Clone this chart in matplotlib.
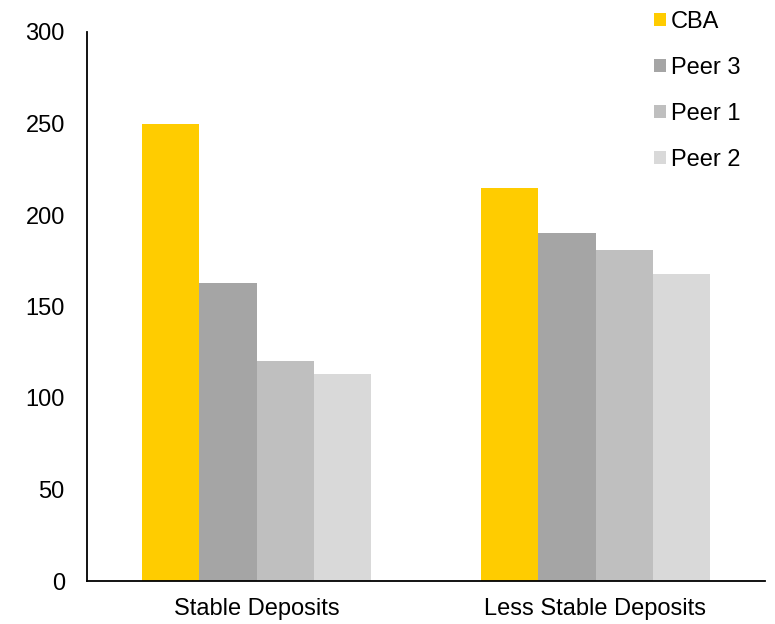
import matplotlib
matplotlib.use("Agg")
import matplotlib.pyplot as plt
import numpy as np
from matplotlib.patches import Patch

plt.rcParams['font.family'] = ['Liberation Sans', 'DejaVu Sans']

categories = ["Stable Deposits", "Less Stable Deposits"]
series = ["CBA", "Peer 3", "Peer 1", "Peer 2"]
cba = [250, 215]
peer3 = [163, 190]
peer1 = [120, 181]
peer2 = [113, 168]
colors = ["#FFCC00", "#A5A5A5", "#BFBFBF", "#D9D9D9"]
yticks = [0, 50, 100, 150, 200, 250, 300]

values = [cba, peer3, peer1, peer2]

fig = plt.figure(figsize=(7.75, 6.24), dpi=100)
ax = fig.add_axes([87/775, 1-581/624, (765-87)/775, (581-32)/624])

x = np.arange(len(categories))
w = 0.169
for i, (vals, c) in enumerate(zip(values, colors)):
    ax.bar(x + (i - 1.5) * w, vals, w, color=c, label=series[i])

ax.set_xlim(-0.5, 1.5)
ax.set_ylim(0, 300)
ax.set_yticks(yticks)
ax.set_xticks(x)
ax.set_xticklabels(categories)
ax.tick_params(axis='y', length=0, pad=16, labelsize=17)
ax.tick_params(axis='x', length=0, pad=12, labelsize=17)
for s in ['top', 'right']:
    ax.spines[s].set_visible(False)
ax.spines['left'].set_linewidth(1.3)
ax.spines['bottom'].set_linewidth(1.3)

handles = [Patch(facecolor=c, edgecolor='none') for c in colors]
fig.legend(handles, series, loc='upper left', bbox_to_anchor=(654/775, 1-11/624),
           frameon=False, fontsize=17, handlelength=0.51, handleheight=0.51,
           handletextpad=0.22, labelspacing=1.015, borderpad=0, borderaxespad=0)

fig.savefig("out.png", dpi=100)
